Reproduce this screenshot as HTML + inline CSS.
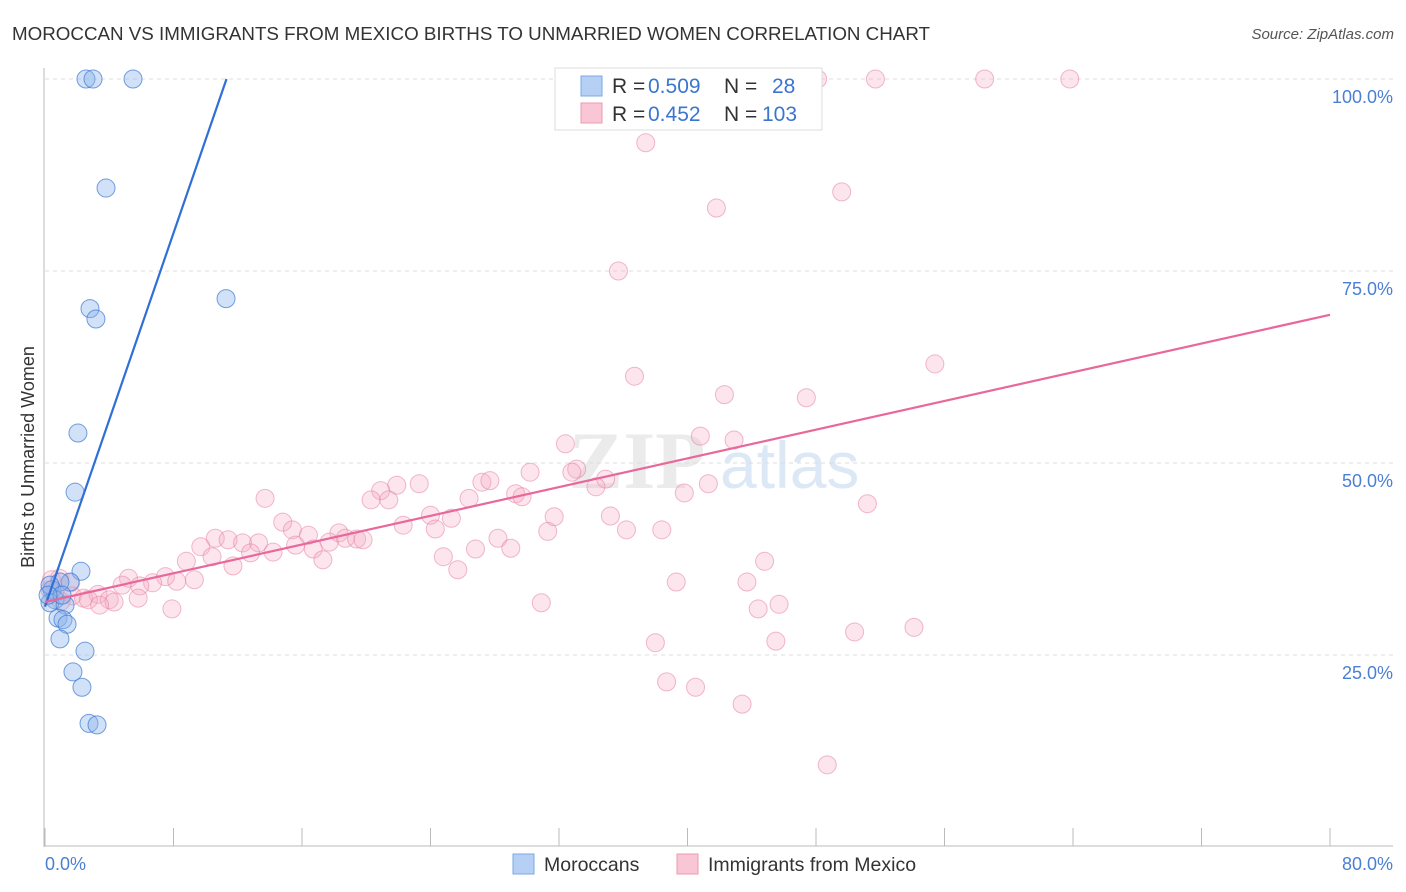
<!DOCTYPE html>
<html><head><meta charset="utf-8"><style>
body{margin:0;background:#fff;font-family:"Liberation Sans",sans-serif;}
#wrap{position:relative;width:1406px;height:892px;overflow:hidden;}
</style></head><body>
<div id="wrap">
<svg id="chart" width="1406" height="892" style="position:absolute;left:0;top:0;font-family:'Liberation Sans',sans-serif"></svg>
</div>
<script>
const xTicks=[0,8,16,24,32,40,48,56,64,72,80];
const yTicks=[25,50,75,100];
const blueX=[2.55,2.99,5.48,3.80,11.27,2.80,3.17,2.05,1.87,2.24,1.56,0.93,0.44,0.62,0.31,1.25,0.81,1.12,1.37,0.93,2.49,1.74,2.30,2.74,3.24,0.31,1.06,0.19];
const blueY=[100,100,100,85.8,71.4,70.1,68.75,53.9,46.2,35.9,34.5,34.5,33.5,32.2,31.8,31.5,29.8,29.6,29.0,27.1,25.5,22.8,20.8,16.1,15.9,34.1,32.8,32.8];
const pinkX=[48.1,51.7,58.5,63.8,37.4,49.6,41.8,35.7,55.4,36.7,42.3,47.4,40.8,42.9,32.4,30.2,33.1,32.8,27.2,27.7,34.9,34.3,41.3,39.8,21.9,23.3,20.9,20.3,21.4,26.4,29.3,29.7,13.7,51.2,24.0,31.7,35.2,25.3,22.3,14.8,15.4,36.2,38.4,31.3,24.3,16.4,18.3,18.7,19.4,19.8,17.7,10.6,11.4,12.3,13.3,28.2,29.0,26.8,15.6,16.7,14.2,9.7,10.4,12.8,8.8,11.7,17.3,24.8,25.7,44.8,7.5,5.2,8.2,9.3,6.7,4.8,5.9,39.3,43.7,0.9,1.6,3.3,1.7,2.4,4.0,4.3,5.8,2.7,1.0,0.6,0.3,45.7,44.4,30.9,7.9,38.0,45.5,50.4,54.1,38.7,40.5,43.4,48.7,0.4,3.4];
const pinkY=[100,100,100,100,91.7,85.3,83.2,75.0,62.9,61.3,58.9,58.5,53.5,53.0,52.5,48.8,49.2,48.8,47.5,47.7,47.9,46.9,47.3,46.1,47.1,47.3,46.4,45.2,45.2,45.4,46.0,45.6,45.4,44.7,43.2,43.0,43.1,42.8,41.9,42.3,41.3,41.3,41.3,41.1,41.4,40.6,40.9,40.2,40.1,40.0,39.7,40.2,40.0,39.6,39.6,40.2,38.9,38.8,39.3,38.8,38.4,39.1,37.8,38.3,37.2,36.6,37.4,37.8,36.1,37.2,35.2,35.0,34.6,34.8,34.4,34.1,34.0,34.5,34.5,35.0,34.4,32.9,32.7,32.4,32.2,31.9,32.4,32.2,32.0,33.2,33.5,31.6,31.0,31.8,31.0,26.6,26.8,28.0,28.6,21.5,20.8,18.6,10.7,34.8,31.5];
const blueLine=[[0,31.3],[11.3,100]];
const pinkLine=[[0,31.9],[80,69.3]];
const X=v=>45+v/80*1285, Y=v=>847-v*7.68;
const svg=document.getElementById('chart'),NS='http://www.w3.org/2000/svg';
function mk(t,a,txt){const e=document.createElementNS(NS,t);for(const k in a)e.setAttribute(k,a[k]);if(txt!=null)e.textContent=txt;svg.appendChild(e);return e;}
let e;
e=mk('text',{x:12,y:40,'font-size':18.5,fill:'#333',textLength:918,lengthAdjust:'spacingAndGlyphs'},'MOROCCAN VS IMMIGRANTS FROM MEXICO BIRTHS TO UNMARRIED WOMEN CORRELATION CHART');

e=mk('text',{x:1394,y:39,'font-size':15,fill:'#555','text-anchor':'end','font-style':'italic'},'Source: ZipAtlas.com');

e=mk('text',{x:637,y:488,'font-size':82,'text-anchor':'middle',fill:'#ebebeb','font-family':'Liberation Serif, serif','font-weight':'bold'},'ZIP');

e=mk('text',{x:720,y:488,'font-size':66,fill:'#dde8f6'},'atlas');

for(const t of yTicks){
 e=mk('line',{x1:45,x2:1393,y1:Y(t),y2:Y(t),stroke:'#ddd','stroke-dasharray':'4,4'});
 
 e=mk('text',{x:1393,y:Y(t)+24,'font-size':18,fill:'#4a7fd4','text-anchor':'end'},t.toFixed(1)+'%');
 
}
e=mk('line',{x1:44,x2:44,y1:68,y2:847,stroke:'#bbb'});

e=mk('line',{x1:44,x2:1393,y1:846,y2:846,stroke:'#bbb'});

for(const t of xTicks){
 e=mk('line',{x1:X(t),x2:X(t),y1:828,y2:846,stroke:'#bbb'});
 
}
e=mk('text',{x:45,y:870,'font-size':18,fill:'#4a7fd4'},'0.0%');

e=mk('text',{x:1393,y:870,'font-size':18,fill:'#4a7fd4','text-anchor':'end'},'80.0%');

e=mk('text',{x:34,y:457,'font-size':18,fill:'#333','text-anchor':'middle',transform:'rotate(-90 34 457)'},'Births to Unmarried Women');

for(let i=0;i<pinkX.length;i++){
 e=mk('circle',{cx:X(pinkX[i]),cy:Y(pinkY[i]),r:9,fill:'rgba(246,170,195,0.3)',stroke:'rgba(230,130,160,0.55)','stroke-width':1});
 
}
for(let i=0;i<blueX.length;i++){
 e=mk('circle',{cx:X(blueX[i]),cy:Y(blueY[i]),r:9,fill:'rgba(140,180,235,0.4)',stroke:'rgba(60,120,210,0.7)','stroke-width':1});
 
}
e=mk('line',{x1:X(blueLine[0][0]),y1:Y(blueLine[0][1]),x2:X(blueLine[1][0]),y2:Y(blueLine[1][1]),stroke:'#2f6fd6','stroke-width':2.2});

e=mk('line',{x1:X(pinkLine[0][0]),y1:Y(pinkLine[0][1]),x2:X(pinkLine[1][0]),y2:Y(pinkLine[1][1]),stroke:'#e8689a','stroke-width':2.2});

e=mk('rect',{x:555,y:68,width:267,height:62,fill:'#fff',stroke:'#ddd'});

e=mk('rect',{x:581,y:76,width:21,height:20,fill:'#b5d0f4',stroke:'#7aa7e6'});

e=mk('rect',{x:581,y:103,width:21,height:20,fill:'#f9c6d6',stroke:'#eb9ab6'});

const lt=[[612,93,'R =','#333'],[648,93,'0.509','#3a75d0'],[724,93,'N =','#333'],[772,93,'28','#3a75d0'],[612,121,'R =','#333'],[648,121,'0.452','#3a75d0'],[724,121,'N =','#333'],[762,121,'103','#3a75d0']];
for(const t of lt){e=mk('text',{x:t[0],y:t[1],'font-size':21,fill:t[3]},t[2]);}
e=mk('rect',{x:513,y:854,width:21,height:20,fill:'#b5d0f4',stroke:'#7aa7e6'});

e=mk('text',{x:544,y:871,'font-size':19.5,fill:'#333'},'Moroccans');

e=mk('rect',{x:677,y:854,width:21,height:20,fill:'#f9c6d6',stroke:'#eb9ab6'});

e=mk('text',{x:708,y:871,'font-size':19.5,fill:'#333'},'Immigrants from Mexico');

</script>
</body></html>
